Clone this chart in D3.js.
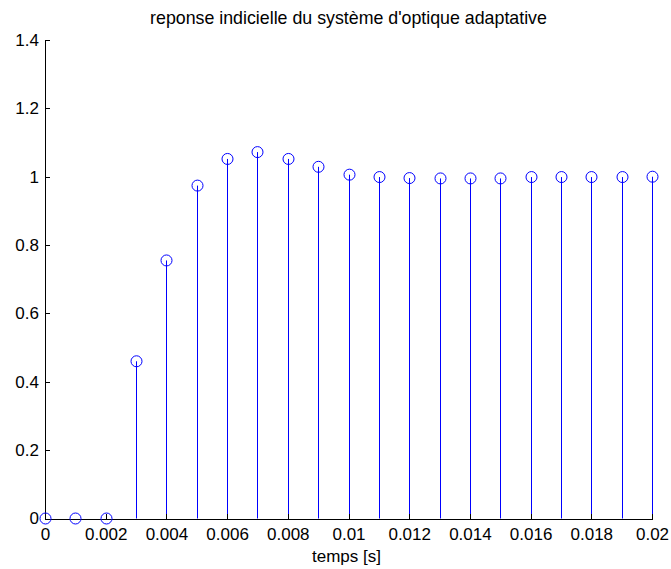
<!DOCTYPE html>
<html>
<head>
<meta charset="utf-8">
<script src="https://cdn.jsdelivr.net/npm/d3@7"></script>
<style>
  html, body { margin: 0; padding: 0; background: #fff; }
  svg text { font-family: "Liberation Sans", Arial, Helvetica, sans-serif; fill: #000; }
</style>
</head>
<body>
<svg id="chart" width="671" height="569"></svg>
<script>
// Sampled step response (time in seconds, amplitude)
const times = [0, 0.001, 0.002, 0.003, 0.004, 0.005, 0.006, 0.007, 0.008, 0.009, 0.010,
               0.011, 0.012, 0.013, 0.014, 0.015, 0.016, 0.017, 0.018, 0.019, 0.020];
const response = [0, 0, 0, 0.46, 0.755, 0.974, 1.052, 1.072, 1.052, 1.029, 1.006,
                  0.999, 0.996, 0.995, 0.995, 0.995, 0.999, 0.999, 0.999, 0.999, 1.0];

const xTicks = [0, 0.002, 0.004, 0.006, 0.008, 0.010, 0.012, 0.014, 0.016, 0.018, 0.020];
const xTickLabels = ["0", "0.002", "0.004", "0.006", "0.008", "0.01", "0.012", "0.014", "0.016", "0.018", "0.02"];
const yTicks = [0, 0.2, 0.4, 0.6, 0.8, 1.0, 1.2, 1.4];
const yTickLabels = ["0", "0.2", "0.4", "0.6", "0.8", "1", "1.2", "1.4"];

const titleText = "reponse indicielle du système d'optique adaptative";
const xLabelText = "temps [s]";

const svg = d3.select("#chart");
const plotLeft = 45, plotRight = 652, plotTop = 40, plotBottom = 518.5;
const fontSize = 17;

const x = d3.scaleLinear().domain([0, 0.02]).range([plotLeft, plotRight]);
const y = d3.scaleLinear().domain([0, 1.4]).range([plotBottom, plotTop]);

const stemColor = "#0000ff";

// stems
svg.append("g")
  .selectAll("line")
  .data(times)
  .join("line")
  .attr("x1", d => Math.round(x(d)) + 0.5)
  .attr("x2", d => Math.round(x(d)) + 0.5)
  .attr("y1", y(0))
  .attr("y2", (d, i) => y(response[i]))
  .attr("stroke", stemColor)
  .attr("stroke-width", 1);

// x axis (ticks pointing into the plot)
const xAxis = d3.axisBottom(x)
  .tickValues(xTicks)
  .tickFormat((d, i) => xTickLabels[i])
  .tickSizeInner(-5)
  .tickSizeOuter(0)
  .tickPadding(10);
const gx = svg.append("g")
  .attr("transform", `translate(0,${plotBottom})`)
  .call(xAxis);
gx.selectAll("text").attr("font-size", fontSize).attr("dy", null).attr("y", 21);
gx.select(".domain").attr("stroke", "#000");
gx.selectAll(".tick line").attr("stroke", "#000");

// y axis (ticks pointing into the plot)
const yAxis = d3.axisLeft(y)
  .tickValues(yTicks)
  .tickFormat((d, i) => yTickLabels[i])
  .tickSizeInner(-5)
  .tickSizeOuter(0)
  .tickPadding(6);
const gy = svg.append("g")
  .attr("transform", `translate(${plotLeft},0)`)
  .call(yAxis);
gy.selectAll("text").attr("font-size", fontSize).attr("x", -6);
gy.select(".domain").attr("stroke", "#000");
gy.selectAll(".tick line").attr("stroke", "#000");
svg.selectAll(".domain, .tick line").attr("shape-rendering", "crispEdges");

// markers
svg.append("g")
  .selectAll("circle")
  .data(times)
  .join("circle")
  .attr("cx", d => Math.round(x(d)) + 0.5)
  .attr("cy", (d, i) => y(response[i]))
  .attr("r", 5.5)
  .attr("fill", "none")
  .attr("stroke", stemColor)
  .attr("stroke-width", 1);

// title
svg.append("text")
  .attr("x", (plotLeft + plotRight) / 2)
  .attr("y", 24)
  .attr("text-anchor", "middle")
  .attr("font-size", 17.8)
  .text(titleText);

// x label
svg.append("text")
  .attr("x", (plotLeft + plotRight) / 2 - 2)
  .attr("y", 561.5)
  .attr("text-anchor", "middle")
  .attr("font-size", fontSize)
  .text(xLabelText);
</script>
</body>
</html>
